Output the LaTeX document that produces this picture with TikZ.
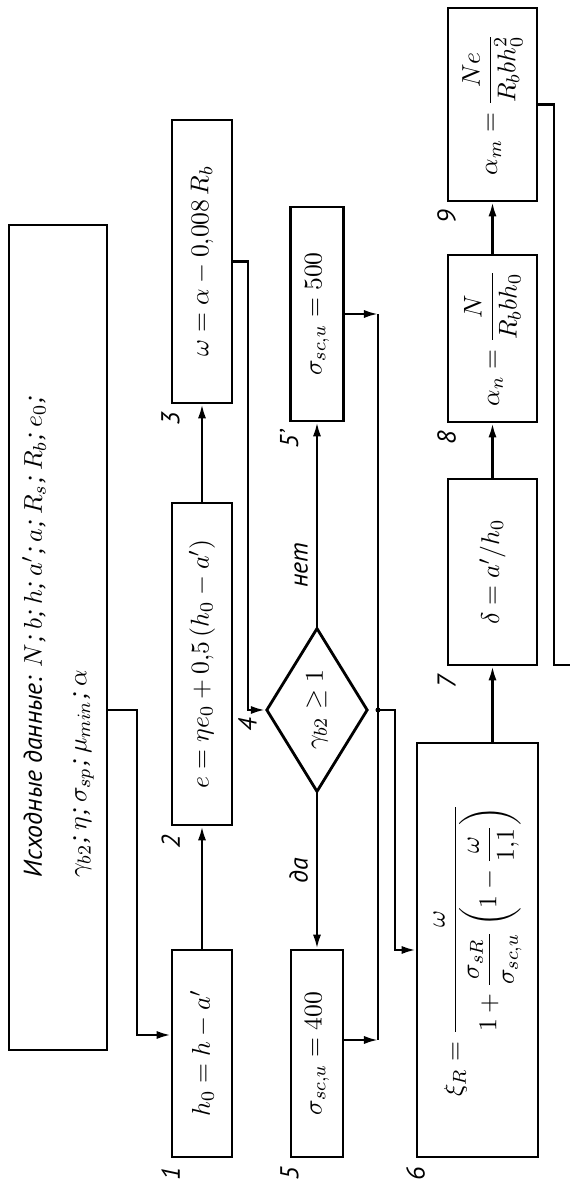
\documentclass[tikz,border=0pt]{standalone}
\usepackage{amsmath}
\usepackage{fontspec}
\setmainfont{PT Sans}
\usepackage{tikz}
\usetikzlibrary{arrows.meta, positioning, calc, shapes.geometric}
\newcommand{\unitpx}{0.015cm}

\begin{document}
\begin{tikzpicture}[rotate=90, transform shape, x=\unitpx, y=\unitpx,
    font=\itshape\fontsize{11}{13}\selectfont,
    box/.style={draw, line width=1.2pt, inner sep=0pt},
    num/.style={left, inner sep=3pt},
    >={Latex[length=6pt, width=3.5pt]}, line width=1pt]
    \useasboundingbox (0,0) rectangle (1188,570);

    % input data
    \node[box, minimum width=825*\unitpx, minimum height=98*\unitpx, align=left] (in) at (550.5,512)
        {Исходные данные: $N$; $b$; $h$; $a'$; $a$; $R_s$; $R_b$; $e_0$;\\[6pt]
         $\gamma_{b2}$; $\eta$; $\sigma_{sp}$; $\mu_{min}$; $\alpha$};

    % first row
    \node[box, minimum width=207*\unitpx, minimum height=60*\unitpx] (b1) at (134.5,368) {$h_0 = h - a'$};
    \node[box, minimum width=322*\unitpx, minimum height=60*\unitpx] (b2) at (524,368) {$e = \eta e_0 + 0{,}5\,(h_0 - a')$};
    \node[box, minimum width=283*\unitpx, minimum height=60*\unitpx] (b3) at (926.5,368) {$\omega = \alpha - 0{,}008\,R_b$};

    % second row
    \node[box, diamond, minimum width=164*\unitpx, minimum height=84*\unitpx] (d4) at (478,253) {$\gamma_{b2} \geq 1$};
    \node[box, minimum width=207*\unitpx, minimum height=52*\unitpx] (b5) at (134.5,253) {$\sigma_{sc,u} = 400$};
    \node[box, minimum width=214*\unitpx, minimum height=53*\unitpx] (b5p) at (874,253) {$\sigma_{sc,u} = 500$};

    % third row
    \node[box, minimum width=414*\unitpx, minimum height=121*\unitpx] (b6) at (238,92.5)
        {$\xi_R = \dfrac{\omega}{1 + \dfrac{\sigma_{sR}}{\sigma_{sc,u}}\left(1 - \dfrac{\omega}{1{,}1}\right)}$};
    \node[box, minimum width=186*\unitpx, minimum height=89*\unitpx] (b7) at (616,77.5) {$\delta = a'/h_0$};
    \node[box, minimum width=167*\unitpx, minimum height=89*\unitpx] (b8) at (849.5,77.5) {$\alpha_n = \dfrac{N}{R_b b h_0}$};
    \node[box, minimum width=193*\unitpx, minimum height=89*\unitpx] (b9) at (1083.5,77.5) {$\alpha_m = \dfrac{Ne}{R_b b h_0^2}$};

    % block numbers
    \foreach \b/\t in {b1/1, b2/2, b3/3, b5/5, b5p/5', b6/6, b7/7, b8/8, b9/9}
        \node[num] (n\b) at (\b.north west) {\t};
    \node[anchor=south east, inner sep=3pt] (n4) at (d4.north) {4};

    % connectors
    \coordinate (c1) at (478,433);
    \coordinate (c2) at (153,433);
    \coordinate (c3) at (478,322);
    \coordinate (jn) at (478,192);
    \coordinate (j5) at (148,192);
    \coordinate (ex) at (523,16);
    \draw[->] (c1 |- in.south) -- (c1) -- (c2) -- (c2 |- b1.north);
    \draw[->] (b1) -- (b2);
    \draw[->] (b2) -- (b3);
    \draw[->] (b3.south) |- (c3) -- (d4.north);
    \draw[->] (d4.west) -- node[above] (yes) {да} (b5.east);
    \draw[->] (d4.east) -- node[above, pos=0.3] (no) {нет} (b5p.west);
    \draw[->] (j5 |- b5.south) -- (j5);
    \draw[->] (b5p.south) -- (b5p.south |- jn);
    \draw (j5) -- (b5p.south |- jn);
    \fill (jn) circle (2.5);
    \draw[->] (jn) -- ++(0,-17) -| (b6.north);
    \draw[->] (b6.east |- b7) -- (b7);
    \draw[->] (b7) -- (b8);
    \draw[->] (b8) -- (b9);
    \draw (b9.south) |- (ex) -- (ex |- 0,0);
\end{tikzpicture}
\end{document}
